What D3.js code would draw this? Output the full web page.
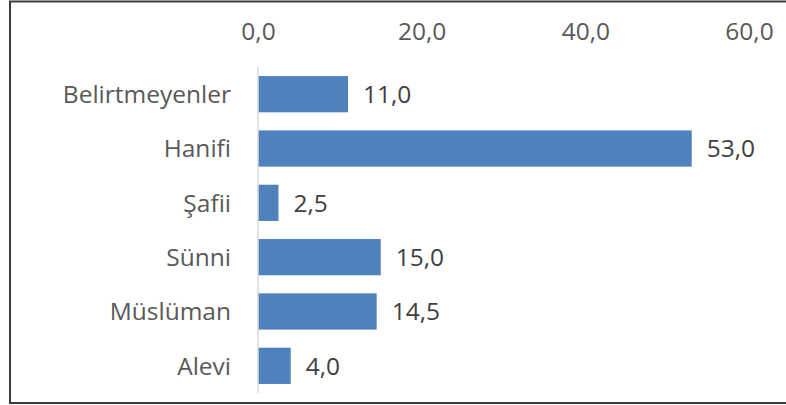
<!DOCTYPE html>
<html>
<head>
<meta charset="utf-8">
<script src="https://cdn.jsdelivr.net/npm/d3@7"></script>
<style>
  body { margin: 0; background: #fff; }
  svg { display: block; font-family: "Open Sans", "Noto Sans", sans-serif; }
</style>
</head>
<body>
<svg id="chart" width="786" height="405"></svg>
<script>
// data
const categories = ['Belirtmeyenler', 'Hanifi', 'Şafii', 'Sünni', 'Müslüman', 'Alevi'];
const values = [11.0, 53.0, 2.5, 15.0, 14.5, 4.0];
const ticks = [0, 20, 40, 60];

const fmt = v => d3.format('.1f')(v).replace('.', ',');
const fontSize = 24.5;

const svg = d3.select('#chart');

// frame (left, top, bottom edges only)
svg.append('path')
  .attr('d', `M10,404 L10,1.5 L786,1.5 M10,403 L786,403`)
  .attr('fill', 'none')
  .attr('stroke', '#3a3a3a')
  .attr('stroke-width', 2);

const x = d3.scaleLinear()
  .domain([0, 60])
  .range([258, 749]);

const y = d3.scaleBand()
  .domain(categories)
  .range([67, 393])
  .paddingInner(0.333)
  .paddingOuter(0.167);

// top axis, labels only
const xAxis = g => g
  .attr('transform', 'translate(0,40)')
  .call(d3.axisTop(x).tickValues(ticks).tickFormat(fmt).tickSize(0).tickPadding(0))
  .call(g => g.select('.domain').remove())
  .call(g => g.selectAll('text')
    .attr('font-size', fontSize)
    .attr('fill', '#595959')
    .attr('font-family', '"Open Sans", sans-serif'));

svg.append('g').call(xAxis);

// bars
svg.append('g')
  .selectAll('rect')
  .data(values)
  .enter()
  .append('rect')
  .attr('x', x(0))
  .attr('y', (d, i) => y(categories[i]))
  .attr('width', d => x(d) - x(0))
  .attr('height', y.bandwidth())
  .attr('fill', '#4f81bd');

// vertical axis line
svg.append('line')
  .attr('x1', x(0)).attr('x2', x(0))
  .attr('y1', 67).attr('y2', 393)
  .attr('stroke', '#d9d9d9')
  .attr('stroke-width', 1.5);

// category labels
svg.append('g')
  .selectAll('text')
  .data(categories)
  .enter()
  .append('text')
  .attr('x', 231)
  .attr('y', d => y(d) + y.bandwidth() / 2)
  .attr('dy', '0.36em')
  .attr('text-anchor', 'end')
  .attr('font-size', fontSize)
  .attr('fill', '#595959')
  .text(d => d);

// value labels
svg.append('g')
  .selectAll('text')
  .data(values)
  .enter()
  .append('text')
  .attr('x', d => x(d) + 15)
  .attr('y', (d, i) => y(categories[i]) + y.bandwidth() / 2)
  .attr('dy', '0.36em')
  .attr('font-size', fontSize)
  .attr('fill', '#404040')
  .text(d => fmt(d));
</script>
</body>
</html>
